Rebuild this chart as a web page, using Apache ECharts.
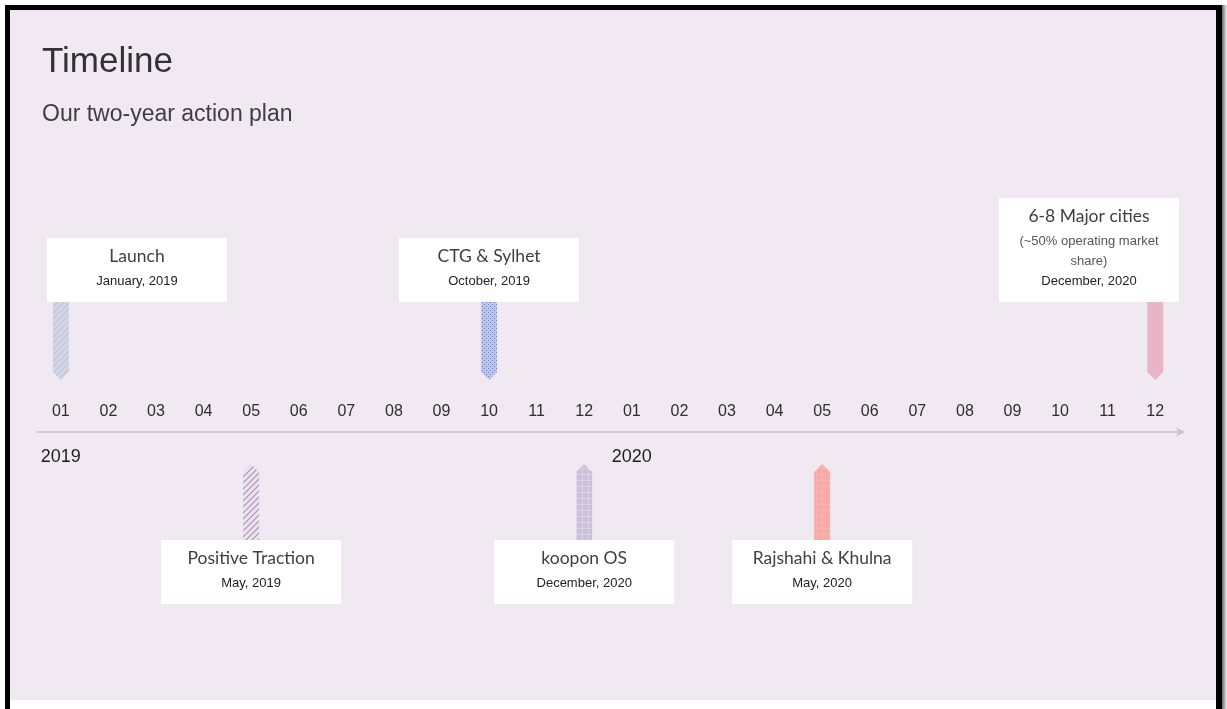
<!DOCTYPE html>
<html>
<head>
<meta charset="utf-8">
<title>Timeline</title>
<script src="https://cdn.jsdelivr.net/npm/echarts@6/dist/echarts.min.js"></script>
<style>
  html, body { margin: 0; padding: 0; background: #ffffff; }
  #chart { width: 1227px; height: 709px; }
</style>
</head>
<body>
<div id="chart"></div>
<script>
// Month tick labels along the two-year axis
const monthLabels = ['01','02','03','04','05','06','07','08','09','10','11','12',
                     '01','02','03','04','05','06','07','08','09','10','11','12'];
// Year labels, shown under the first month of each year
const yearLabels = ['2019', '2020'];

// Milestones
const eventTitles = ['Launch', 'Positive Traction', 'CTG & Sylhet', 'koopon OS', 'Rajshahi & Khulna', '6-8 Major cities'];
const eventDates  = ['January, 2019', 'May, 2019', 'October, 2019', 'December, 2020', 'May, 2020', 'December, 2020'];
const eventNotes  = [[], [], [], [], [], ['(~50% operating market', 'share)']];
const eventMonth  = [0, 4, 9, 11, 16, 23];       // index into monthLabels
const eventSide   = [1, -1, 1, -1, -1, 1];       // 1 = above the axis, -1 = below

// Small repeating fills for the milestone pins
function makePattern(kind, bg, fg) {
  const c = document.createElement('canvas');
  const s = kind === 'dots' ? 4 : 6;
  c.width = s; c.height = s;
  const g = c.getContext('2d');
  g.fillStyle = bg; g.fillRect(0, 0, s, s);
  g.strokeStyle = fg; g.fillStyle = fg;
  if (kind === 'stripes') {
    g.lineWidth = 1.2;
    g.beginPath();
    g.moveTo(0, s); g.lineTo(s, 0);
    g.moveTo(-s / 2, s / 2); g.lineTo(s / 2, -s / 2);
    g.moveTo(s / 2, s * 1.5); g.lineTo(s * 1.5, s / 2);
    g.stroke();
  } else if (kind === 'dots') {
    g.fillRect(0, 0, 1, 1);
    g.fillRect(2, 2, 1, 1);
  } else if (kind === 'grid') {
    g.lineWidth = 1;
    g.beginPath();
    g.moveTo(0, 0.5); g.lineTo(s, 0.5);
    g.moveTo(0.5, 0); g.lineTo(0.5, s);
    g.stroke();
  }
  return { image: c, repeat: 'repeat' };
}

const pinFills = [
  makePattern('stripes', '#d4d5e6', '#bfc3d8'),
  makePattern('stripes', '#ece3ef', '#a994bf'),
  makePattern('dots', '#bcc6ea', '#6f7db6'),
  makePattern('grid', '#ccbfdb', '#dcd2e6'),
  makePattern('grid', '#f8a9a5', '#fab4b0'),
  '#e8b5c5'
];

const seriesData = eventMonth.map((m, i) => [m, eventSide[i], i]);

const PIN_W = 16;
const BOX_W = 180;
const BOX_MIN_X = 47;
const BOX_MAX_X = 1179;

function renderMilestone(params, api) {
  const idx = api.value(2);
  const side = api.value(1);
  const p = api.coord([api.value(0), 0]);
  const cx = p[0], ay = p[1];
  const notes = eventNotes[idx];
  const boxH = 64 + notes.length * 20;
  let left = cx - BOX_W / 2;
  left = Math.max(BOX_MIN_X, Math.min(BOX_MAX_X - BOX_W, left));
  const boxCx = left + BOX_W / 2;
  let top, pinPts;
  const h = PIN_W / 2;
  if (side > 0) {
    const bottom = ay - 130;
    top = bottom - boxH;
    const tip = ay - 52;
    pinPts = [[cx - h, bottom], [cx + h, bottom], [cx + h, tip - 8], [cx, tip], [cx - h, tip - 8]];
  } else {
    top = ay + 108;
    const tip = ay + 32;
    pinPts = [[cx - h, top], [cx + h, top], [cx + h, tip + 8], [cx, tip], [cx - h, tip + 8]];
  }
  const children = [
    { type: 'polygon', shape: { points: pinPts }, style: { fill: pinFills[idx] } },
    { type: 'rect', shape: { x: left, y: top, width: BOX_W, height: boxH }, style: { fill: '#ffffff' } },
    { type: 'text', style: { text: eventTitles[idx], x: boxCx, y: top + 18,
      align: 'center', verticalAlign: 'middle', fill: '#3f3f42',
      font: '17.5px Lato, "Noto Sans", sans-serif' } }
  ];
  notes.forEach((n, k) => {
    children.push({ type: 'text', style: { text: n, x: boxCx, y: top + 43 + k * 20,
      align: 'center', verticalAlign: 'middle', fill: '#555555',
      font: '13px "Liberation Sans", Arial, sans-serif' } });
  });
  children.push({ type: 'text', style: { text: eventDates[idx], x: boxCx, y: top + 43 + notes.length * 20,
    align: 'center', verticalAlign: 'middle', fill: '#222222',
    font: '13px "Liberation Sans", Arial, sans-serif' } });
  return { type: 'group', children: children };
}

const chart = echarts.init(document.getElementById('chart'), null, { renderer: 'canvas' });

chart.setOption({
  backgroundColor: '#ffffff',
  animation: false,
  graphic: [
    // slide panel with its frame
    { type: 'rect', z: -20, shape: { x: 5, y: 5, width: 1217, height: 704 }, style: { fill: '#000000' } },
    { type: 'rect', z: -19, shape: { x: 10, y: 700, width: 1206, height: 9 }, style: { fill: '#ffffff' } },
    { type: 'rect', z: -19, shape: { x: 1222, y: 5, width: 5, height: 704 },
      style: { fill: new echarts.graphic.LinearGradient(0, 0, 1, 0, [
        { offset: 0, color: '#6a6a6a' }, { offset: 1, color: '#f4f4f4' }]) } },
    { type: 'rect', z: -18, shape: { x: 10, y: 10, width: 1206, height: 690 }, style: { fill: '#f0e9f1' } },
    { type: 'text', z: 5, style: { text: 'Timeline', x: 42, y: 62, verticalAlign: 'middle',
      fill: '#333135', font: '35px "Liberation Sans", Arial, sans-serif' } },
    { type: 'text', z: 5, style: { text: 'Our two-year action plan', x: 42, y: 115, verticalAlign: 'middle',
      fill: '#3f3d42', font: '23px "Liberation Sans", Arial, sans-serif' } }
  ],
  grid: { left: 37, right: 48, top: 100, bottom: 277 },
  xAxis: [
    {
      type: 'category',
      data: monthLabels,
      position: 'bottom',
      boundaryGap: true,
      axisLine: { show: true, symbol: ['none', 'arrow'], symbolSize: [7, 9], symbolOffset: [0, 6],
        lineStyle: { color: '#c8c4cc', width: 1.5 } },
      axisTick: { show: false },
      splitLine: { show: false },
      axisLabel: { inside: true, margin: 12, interval: 0, color: '#2e2e2e', fontSize: 16,
        fontFamily: '"Liberation Sans", Arial, sans-serif' }
    },
    {
      type: 'category',
      data: monthLabels.map((_, i) => (i % 12 === 0 ? yearLabels[i / 12] : '')),
      position: 'bottom',
      boundaryGap: true,
      axisLine: { show: false },
      axisTick: { show: false },
      splitLine: { show: false },
      axisLabel: { margin: 16, interval: 0, color: '#1e1e1e', fontSize: 18,
        fontFamily: '"Liberation Sans", Arial, sans-serif' }
    }
  ],
  yAxis: { type: 'value', min: 0, max: 1, show: false },
  series: [{
    type: 'custom',
    xAxisIndex: 0,
    renderItem: renderMilestone,
    data: seriesData,
    clip: false,
    z: 3
  }]
});
</script>
</body>
</html>
